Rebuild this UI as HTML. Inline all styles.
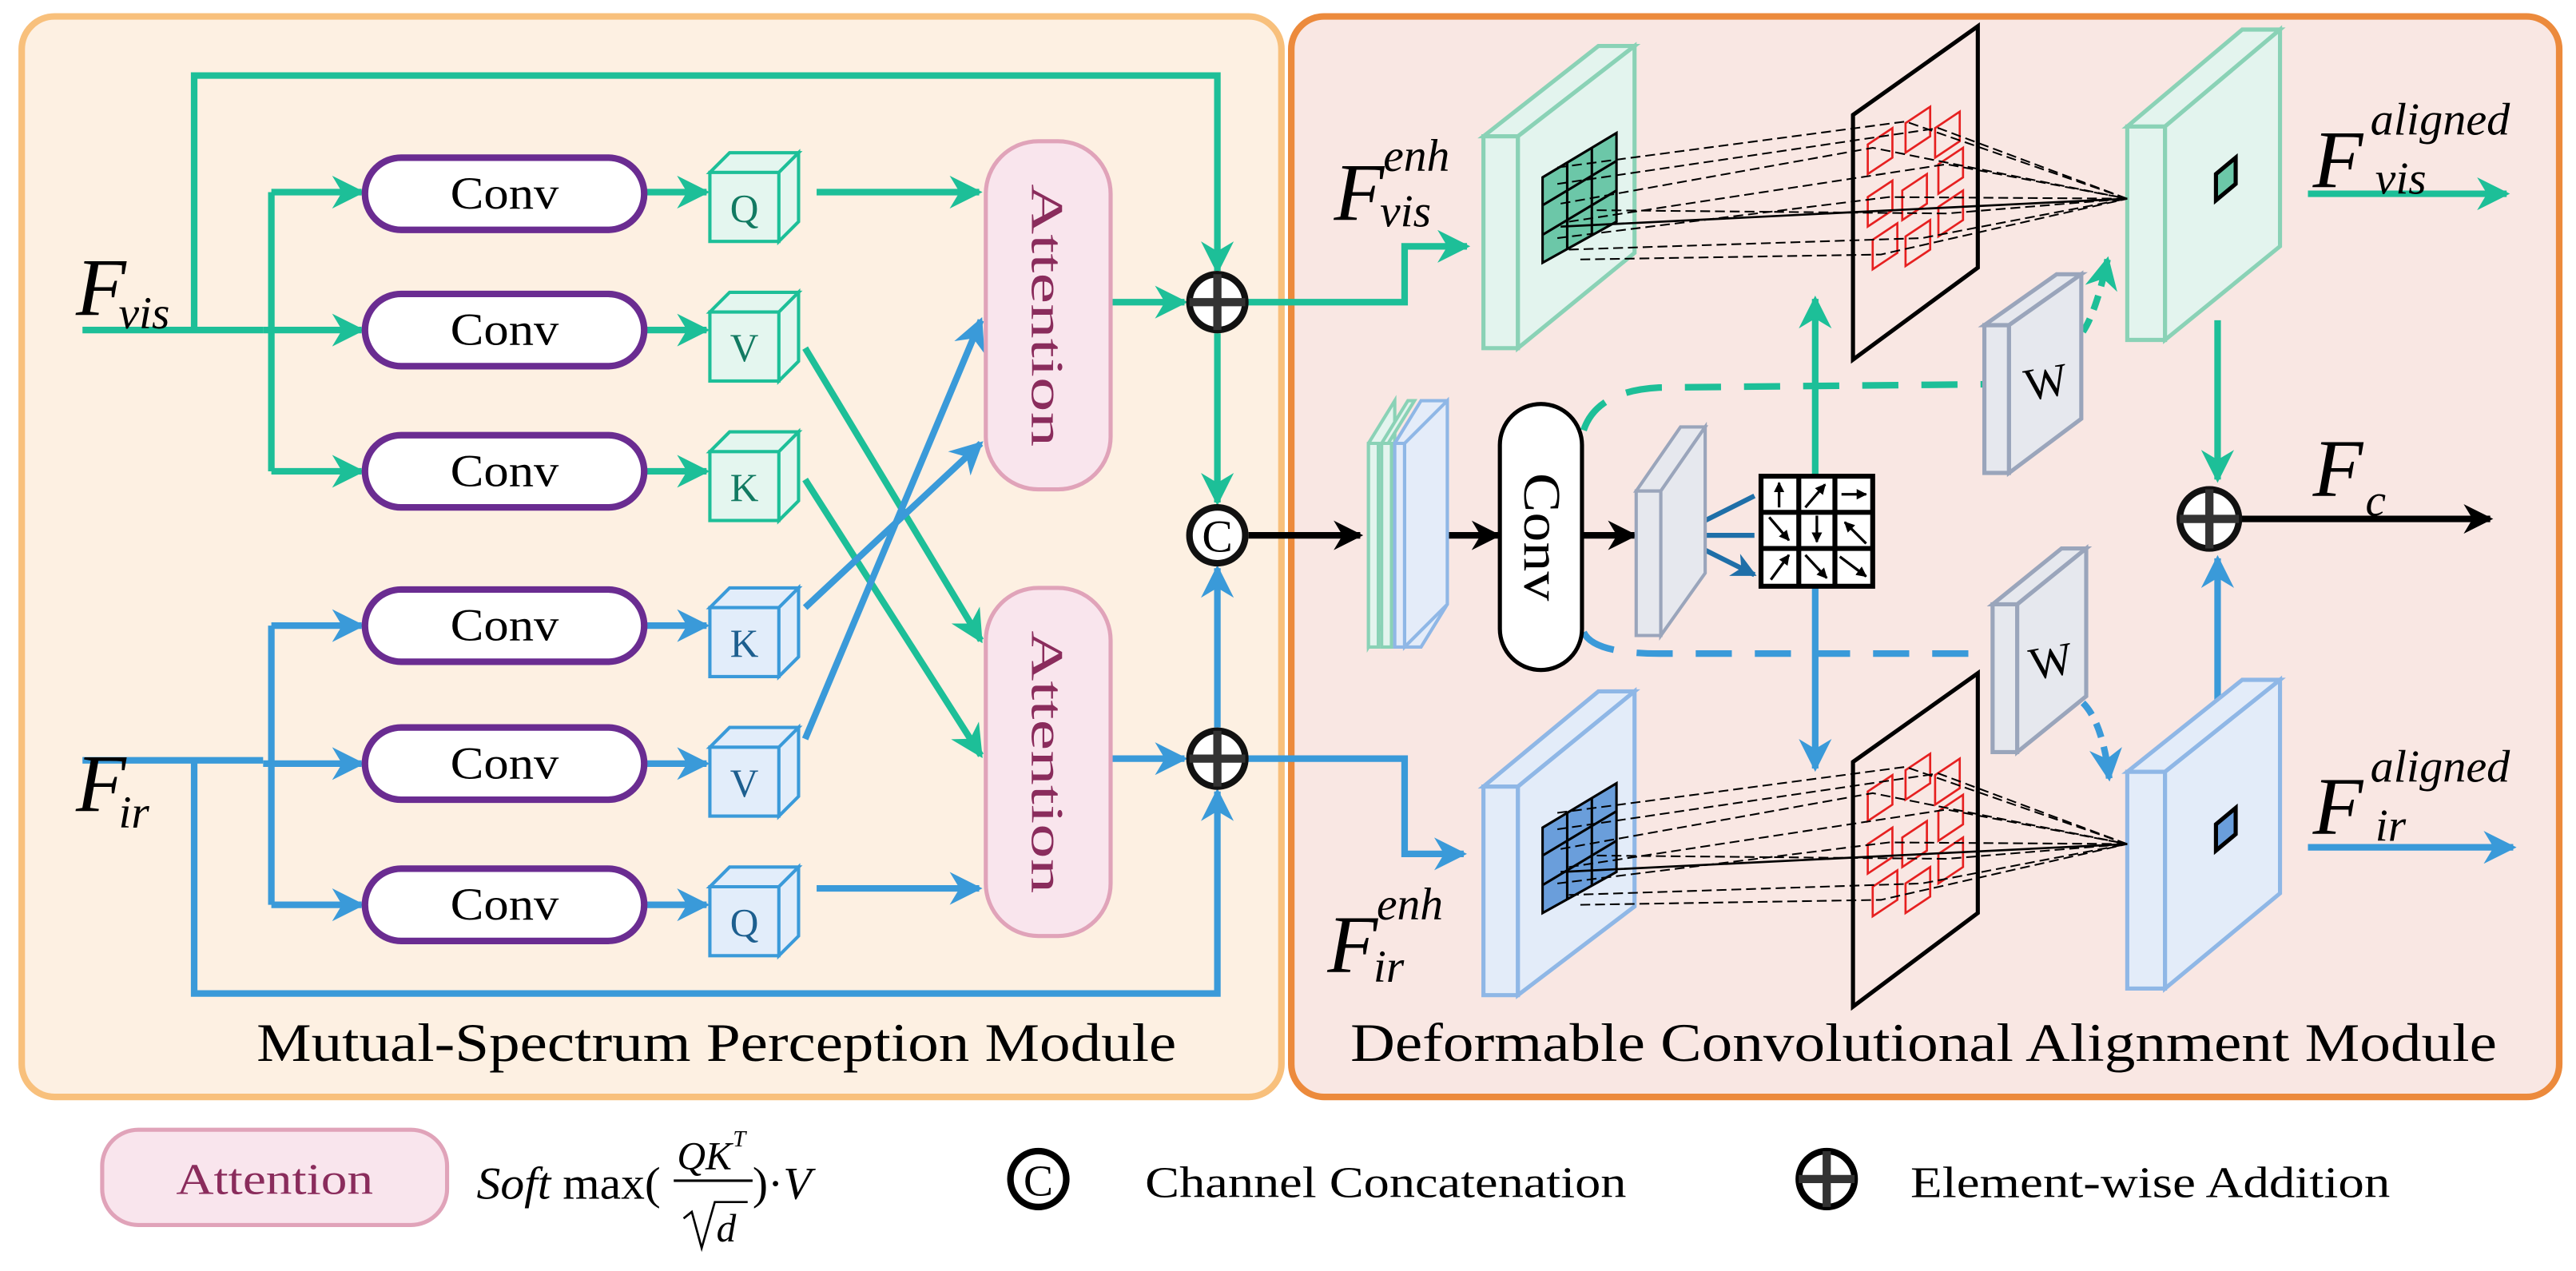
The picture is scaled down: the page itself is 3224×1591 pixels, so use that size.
<!DOCTYPE html>
<html><head><meta charset="utf-8"><style>html,body{margin:0;padding:0;background:#fff}svg{display:block}svg text{font-family:"Liberation Serif","Times New Roman","DejaVu Serif",serif}</style></head><body>
<svg xmlns="http://www.w3.org/2000/svg" width="3224" height="1591" viewBox="0 0 1568 774">
<defs>
<marker id="at" viewBox="0 0 10 10" refX="9" refY="5" markerWidth="5" markerHeight="5" orient="auto"><path d="M0,0L10,5L0,10L3,5z" fill="#1dbf98"/></marker>
<marker id="ab" viewBox="0 0 10 10" refX="9" refY="5" markerWidth="5" markerHeight="5" orient="auto"><path d="M0,0L10,5L0,10L3,5z" fill="#3a9ad9"/></marker>
<marker id="ad" viewBox="0 0 10 10" refX="9" refY="5" markerWidth="5" markerHeight="5" orient="auto"><path d="M0,0L10,5L0,10L3,5z" fill="#1f6fa8"/></marker>
<marker id="ak" viewBox="0 0 10 10" refX="9" refY="5" markerWidth="4.5" markerHeight="4.5" orient="auto"><path d="M0,0L10,5L0,10L3,5z" fill="#000"/></marker>
<marker id="as" viewBox="0 0 10 10" refX="9" refY="5" markerWidth="4" markerHeight="4" orient="auto"><path d="M0,0L10,5L0,10z" fill="#000"/></marker>
</defs>
<rect x="13" y="10" width="767" height="658" rx="20" fill="#fdf0e2" stroke="#f8c07c" stroke-width="4"/>
<rect x="786" y="10" width="772" height="658" rx="20" fill="#f9e7e3" stroke="#ec8a3c" stroke-width="4"/>

<g fill="none" stroke-width="4">
<path d="M50,201H160M118,201V46H741V165" stroke="#1dbf98" marker-end="url(#at)"/>
<path d="M165,117V287" stroke="#1dbf98"/>
<path d="M165,117H220" stroke="#1dbf98" marker-end="url(#at)"/>
<path d="M160,201H220" stroke="#1dbf98" marker-end="url(#at)"/>
<path d="M165,287H220" stroke="#1dbf98" marker-end="url(#at)"/>
<path d="M392,117H430" stroke="#1dbf98" marker-end="url(#at)"/>
<path d="M392,201H430" stroke="#1dbf98" marker-end="url(#at)"/>
<path d="M392,287H430" stroke="#1dbf98" marker-end="url(#at)"/>
<path d="M497,117H596" stroke="#1dbf98" marker-end="url(#at)"/>
<path d="M490,212L597,390" stroke="#1dbf98" marker-end="url(#at)"/>
<path d="M490,292L597,460" stroke="#1dbf98" marker-end="url(#at)"/>
<path d="M50,463H160M118,463V605H741V482" stroke="#3a9ad9" marker-end="url(#ab)"/>
<path d="M165,381V551" stroke="#3a9ad9"/>
<path d="M165,381H220" stroke="#3a9ad9" marker-end="url(#ab)"/>
<path d="M160,465H220" stroke="#3a9ad9" marker-end="url(#ab)"/>
<path d="M165,551H220" stroke="#3a9ad9" marker-end="url(#ab)"/>
<path d="M392,381H430" stroke="#3a9ad9" marker-end="url(#ab)"/>
<path d="M392,465H430" stroke="#3a9ad9" marker-end="url(#ab)"/>
<path d="M392,551H430" stroke="#3a9ad9" marker-end="url(#ab)"/>
<path d="M497,541H596" stroke="#3a9ad9" marker-end="url(#ab)"/>
<path d="M490,370L597,270" stroke="#3a9ad9" marker-end="url(#ab)"/>
<path d="M490,450L597,195" stroke="#3a9ad9" marker-end="url(#ab)"/>
<path d="M676,184H721" stroke="#1dbf98" marker-end="url(#at)"/>
<path d="M741,203V306" stroke="#1dbf98" marker-end="url(#at)"/>
<path d="M759,184H855V150H893" stroke="#1dbf98" marker-end="url(#at)"/>
<path d="M676,462H721" stroke="#3a9ad9" marker-end="url(#ab)"/>
<path d="M741,443V346" stroke="#3a9ad9" marker-end="url(#ab)"/>
<path d="M759,462H855V520H891" stroke="#3a9ad9" marker-end="url(#ab)"/>
<path d="M760,326H828" stroke="#000" marker-end="url(#ak)"/>
<path d="M882,326H912" stroke="#000" marker-end="url(#ak)"/>
<path d="M962,326H995" stroke="#000" marker-end="url(#ak)"/>
<path d="M1105,290V182" stroke="#1dbf98" marker-end="url(#at)"/>
<path d="M1105,358V468" stroke="#3a9ad9" marker-end="url(#ab)"/>
<path d="M1036,318L1068,302M1036,326H1068M1036,334L1068,350" stroke="#1f6fa8" stroke-width="3" marker-end="url(#ad)"/>
<path d="M964,262Q972,238 1010,236L1208,234" stroke="#1dbf98" stroke-dasharray="22,14"/>
<path d="M1268,202Q1276,190 1283,158" stroke="#1dbf98" stroke-dasharray="9,6" marker-end="url(#at)"/>
<path d="M964,385Q970,398 1010,398L1213,398" stroke="#3a9ad9" stroke-dasharray="22,14"/>
<path d="M1268,428Q1280,440 1284,474" stroke="#3a9ad9" stroke-dasharray="9,6" marker-end="url(#ab)"/>
<path d="M1350,195V292" stroke="#1dbf98" marker-end="url(#at)"/>
<path d="M1350,435V340" stroke="#3a9ad9" marker-end="url(#ab)"/>
<path d="M1364,316H1516" stroke="#000" marker-end="url(#ak)"/>
<path d="M1405,118H1526" stroke="#1dbf98" marker-end="url(#at)"/>
<path d="M1405,516H1530" stroke="#3a9ad9" marker-end="url(#ab)"/>
</g>

<g fill="#fff" stroke="#6a2c91" stroke-width="4">
<rect x="222" y="96" width="170" height="44" rx="22"/><rect x="222" y="179" width="170" height="44" rx="22"/><rect x="222" y="265" width="170" height="44" rx="22"/>
<rect x="222" y="359" width="170" height="44" rx="22"/><rect x="222" y="443" width="170" height="44" rx="22"/><rect x="222" y="529" width="170" height="44" rx="22"/>
</g>
<g font-size="28" text-anchor="middle">
<text x="307" y="127" textLength="66" lengthAdjust="spacingAndGlyphs">Conv</text><text x="307" y="210" textLength="66" lengthAdjust="spacingAndGlyphs">Conv</text><text x="307" y="296" textLength="66" lengthAdjust="spacingAndGlyphs">Conv</text>
<text x="307" y="390" textLength="66" lengthAdjust="spacingAndGlyphs">Conv</text><text x="307" y="474" textLength="66" lengthAdjust="spacingAndGlyphs">Conv</text><text x="307" y="560" textLength="66" lengthAdjust="spacingAndGlyphs">Conv</text>
</g>
<g stroke-width="2">
<g fill="#e4f6ef" stroke="#1dbf98">
<path d="M432,105h42v42h-42z M432,105l12,-12h42l-12,12z M474,105l12,-12v42l-12,12z"/>
<path d="M432,190h42v42h-42z M432,190l12,-12h42l-12,12z M474,190l12,-12v42l-12,12z"/>
<path d="M432,275h42v42h-42z M432,275l12,-12h42l-12,12z M474,275l12,-12v42l-12,12z"/>
</g>
<g fill="#e2edfa" stroke="#3a9ad9">
<path d="M432,370h42v42h-42z M432,370l12,-12h42l-12,12z M474,370l12,-12v42l-12,12z"/>
<path d="M432,455h42v42h-42z M432,455l12,-12h42l-12,12z M474,455l12,-12v42l-12,12z"/>
<path d="M432,540h42v42h-42z M432,540l12,-12h42l-12,12z M474,540l12,-12v42l-12,12z"/>
</g>
</g>
<g font-size="24" text-anchor="middle">
<text x="453" y="135" fill="#127a62">Q</text><text x="453" y="220" fill="#127a62">V</text><text x="453" y="305" fill="#127a62">K</text>
<text x="453" y="400" fill="#1d5f8f">K</text><text x="453" y="485" fill="#1d5f8f">V</text><text x="453" y="570" fill="#1d5f8f">Q</text>
</g>
<g fill="#f9e5ed" stroke="#e0a3b9" stroke-width="2.5">
<rect x="600" y="86" width="76" height="212" rx="32"/><rect x="600" y="358" width="76" height="212" rx="32"/>
</g>
<g font-size="28" fill="#8a2c5c" text-anchor="middle">
<text transform="translate(628,192) rotate(90)" textLength="160" lengthAdjust="spacingAndGlyphs">Attention</text>
<text transform="translate(628,464) rotate(90)" textLength="160" lengthAdjust="spacingAndGlyphs">Attention</text>
</g>
<g fill="#fff" stroke="#111" stroke-width="4">
<circle cx="741" cy="184" r="17"/><circle cx="741" cy="462" r="17"/><circle cx="741" cy="326" r="17"/><circle cx="1345" cy="316" r="18"/>
</g>
<g stroke="#333" stroke-width="5">
<path d="M741,167V201M724,184H758M741,445V479M724,462H758M1345,298V334M1327,316H1363"/>
</g>
<text x="741" y="336" font-size="28" text-anchor="middle">C</text>

<g stroke-width="2">
<path d="M833,270l16,-26v124l-16,26z" fill="#e3f4ee" stroke="#8ad2b6"/>
<path d="M833,270h6v124h-6z" fill="#e3f4ee" stroke="#8ad2b6"/>
<path d="M841,270l16,-26h4l-16,26z M841,270h6v124h-6z" fill="#e3f4ee" stroke="#8ad2b6"/>
<path d="M849,270l16,-26h16v124l-16,26h-16z M849,270h6v124h-6z" fill="#e4ecf9" stroke="#8fb7e6"/>
<path d="M855,270l26,-26v124l-26,26z" fill="#e4ecf9" stroke="#8fb7e6"/>
</g>
<rect x="913" y="246" width="50" height="162" rx="25" fill="#fff" stroke="#000" stroke-width="2.5"/>
<text transform="translate(928,327) rotate(90)" font-size="32" text-anchor="middle" textLength="78" lengthAdjust="spacingAndGlyphs">Conv</text>
<g fill="#e6e8ee" stroke="#9aa5bb" stroke-width="2">
<path d="M996,299h15v88h-15z"/><path d="M996,299l27,-39h15l-27,39z"/><path d="M1011,299l27,-39v89l-27,38z"/>
</g>
<g stroke="#000" stroke-width="3" fill="#fff"><rect x="1072" y="290" width="68" height="67"/><path d="M1095,290V357M1117,290V357M1072,312H1140M1072,334H1140" fill="none"/></g>
<g stroke="#000" stroke-width="1.6" fill="none" marker-end="url(#as)">
<path d="M1083,309V294"/><path d="M1099,309l12,-14"/><path d="M1121,301h15"/>
<path d="M1077,315l12,14"/><path d="M1106,314v16"/><path d="M1136,331l-13,-13"/>
<path d="M1078,353l11,-15"/><path d="M1099,338l13,14"/><path d="M1120,339l16,12"/>
</g>
<g fill="#e6e8ee" stroke="#9aa5bb" stroke-width="2.5">
<path d="M1208,198h15v90h-15z"/><path d="M1208,198l44,-31h15l-44,31z"/><path d="M1223,198l44,-31v88l-44,33z"/>
<path d="M1213,368h15v90h-15z"/><path d="M1213,368l42,-34h15l-42,34z"/><path d="M1228,368l42,-34v90l-42,34z"/>
</g>
<text x="1246" y="242" font-size="28" text-anchor="middle" transform="rotate(-10,1246,235)">W</text>
<text x="1249" y="412" font-size="28" text-anchor="middle" transform="rotate(-10,1249,405)">W</text>

<g stroke-width="2.5">
<g fill="#e3f4ee" stroke="#8ad2b6"><path d="M903,83h21v129h-21z"/><path d="M903,83l70,-55h22l-71,55z"/><path d="M924,83l71,-55v126l-71,58z"/></g>
<g fill="#e3ecf9" stroke="#8fb7e6"><path d="M903,479h21v127h-21z"/><path d="M903,479l70,-58h22l-71,58z"/><path d="M924,479l71,-58v131l-71,54z"/></g>
<g fill="#e3f4ee" stroke="#8ad2b6"><path d="M1295,77h23v130h-23z"/><path d="M1295,77l70,-59h23l-70,59z"/><path d="M1318,77l70,-59v132l-70,57z"/></g>
<g fill="#e3ecf9" stroke="#8fb7e6"><path d="M1295,470h23v132h-23z"/><path d="M1295,470l70,-56h23l-70,56z"/><path d="M1318,470l70,-56v130l-70,58z"/></g>
</g>
<g stroke="#000" stroke-width="1.5">
<path d="M939,108l45,-27v54l-45,25z" fill="#6cc7a8"/>
<path d="M939,125l45,-27M939,143l45,-27M954,99v53M969,90v53" fill="none"/>
<path d="M939,504l45,-27v54l-45,25z" fill="#6a9edb"/>
<path d="M939,521l45,-27M939,539l45,-27M954,495v53M969,486v53" fill="none"/>
<path d="M1349,106l12,-10v16l-12,10z" fill="#6cc7a8" stroke-width="2.5"/>
<path d="M1349,502l12,-10v16l-12,10z" fill="#6a9edb" stroke-width="2.5"/>
</g>
<g fill="#f9e7e3" stroke="#000" stroke-width="2.5">
<path d="M1128,70L1204,16V163L1128,219z"/>
<path d="M1128,464L1204,410V556L1128,613z"/>
</g>
<g fill="none" stroke="#e62020" stroke-width="1.3">
<path d="M1137,88l15,-10v18l-15,10z M1160,75l15,-10v18l-15,10z M1178,78l15,-10v18l-15,10z M1137,120l15,-10v18l-15,10z M1158,116l15,-10v18l-15,10z M1180,100l15,-10v18l-15,10z M1140,146l15,-10v18l-15,10z M1160,144l15,-10v18l-15,10z M1180,126l15,-10v18l-15,10z"/>
<path transform="translate(0,394)" d="M1137,88l15,-10v18l-15,10z M1160,75l15,-10v18l-15,10z M1178,78l15,-10v18l-15,10z M1137,120l15,-10v18l-15,10z M1158,116l15,-10v18l-15,10z M1180,100l15,-10v18l-15,10z M1140,146l15,-10v18l-15,10z M1160,144l15,-10v18l-15,10z M1180,126l15,-10v18l-15,10z"/>
</g>
<g stroke="#000" stroke-width="1" stroke-dasharray="6,3" fill="none">
<path d="M948,102L1160,74L1295,121M948,112L1180,78L1295,121M950,124L1140,90L1295,121M955,135L1185,100L1295,121M948,145L1150,120L1295,121M955,152L1170,145L1295,121M962,158L1145,155L1295,121M972,128L1185,130L1295,121"/>
<path transform="translate(0,393)" d="M948,102L1160,74L1295,121M948,112L1180,78L1295,121M950,124L1140,90L1295,121M955,135L1185,100L1295,121M948,145L1150,120L1295,121M955,152L1170,145L1295,121M962,158L1145,155L1295,121M972,128L1185,130L1295,121"/>
</g>
<g stroke="#000" stroke-width="1.3" fill="none"><path d="M950,138L1295,121M950,531L1295,514"/></g>

<g font-style="italic">
<text x="46" y="192" font-size="50">F</text><text x="72" y="200" font-size="28">vis</text>
<text x="46" y="494" font-size="50">F</text><text x="72" y="504" font-size="28">ir</text>
<text x="812" y="134" font-size="50">F</text><text x="842" y="104" font-size="28">enh</text><text x="840" y="138" font-size="28">vis</text>
<text x="808" y="592" font-size="50">F</text><text x="838" y="560" font-size="28">enh</text><text x="836" y="598" font-size="28">ir</text>
<text x="1408" y="114" font-size="50">F</text><text x="1443" y="82" font-size="28" textLength="85" lengthAdjust="spacingAndGlyphs">aligned</text><text x="1446" y="118" font-size="28">vis</text>
<text x="1408" y="508" font-size="50">F</text><text x="1443" y="476" font-size="28" textLength="85" lengthAdjust="spacingAndGlyphs">aligned</text><text x="1446" y="512" font-size="28">ir</text>
<text x="1408" y="302" font-size="50">F</text><text x="1440" y="314" font-size="28">c</text>
</g>
<text x="436" y="646" font-size="33" text-anchor="middle" textLength="560" lengthAdjust="spacingAndGlyphs">Mutual-Spectrum Perception Module</text>
<text x="1171" y="646" font-size="33" text-anchor="middle" textLength="698" lengthAdjust="spacingAndGlyphs">Deformable Convolutional Alignment Module</text>

<rect x="62" y="688" width="210" height="58" rx="22" fill="#f9e5ed" stroke="#e0a3b9" stroke-width="2.5"/>
<text x="167" y="727" font-size="27" fill="#8a2c5c" text-anchor="middle" textLength="120" lengthAdjust="spacingAndGlyphs">Attention</text>
<text x="290" y="730" font-size="28" textLength="112" lengthAdjust="spacingAndGlyphs"><tspan font-style="italic">Soft</tspan> max(</text>
<text x="412" y="712" font-size="24" font-style="italic">QK</text><text x="446" y="698" font-size="14" font-style="italic">T</text>
<path d="M410,719H458" stroke="#000" stroke-width="1.5"/>
<path d="M416,742l5,-4l6,22l8,-28h20" stroke="#000" stroke-width="1.3" fill="none"/>
<text x="436" y="756" font-size="24" font-style="italic">d</text>
<text x="458" y="730" font-size="28">)·<tspan font-style="italic">V</tspan></text>
<circle cx="632" cy="718" r="17" fill="#fff" stroke="#000" stroke-width="4"/>
<text x="632" y="728" font-size="27" text-anchor="middle">C</text>
<text x="697" y="729" font-size="27" textLength="293" lengthAdjust="spacingAndGlyphs">Channel Concatenation</text>
<circle cx="1112" cy="718" r="17" fill="#fff" stroke="#000" stroke-width="4"/>
<path d="M1112,701V735M1095,718H1129" stroke="#333" stroke-width="5"/>
<text x="1163" y="729" font-size="27" textLength="292" lengthAdjust="spacingAndGlyphs">Element-wise Addition</text>
</svg>
</body></html>
